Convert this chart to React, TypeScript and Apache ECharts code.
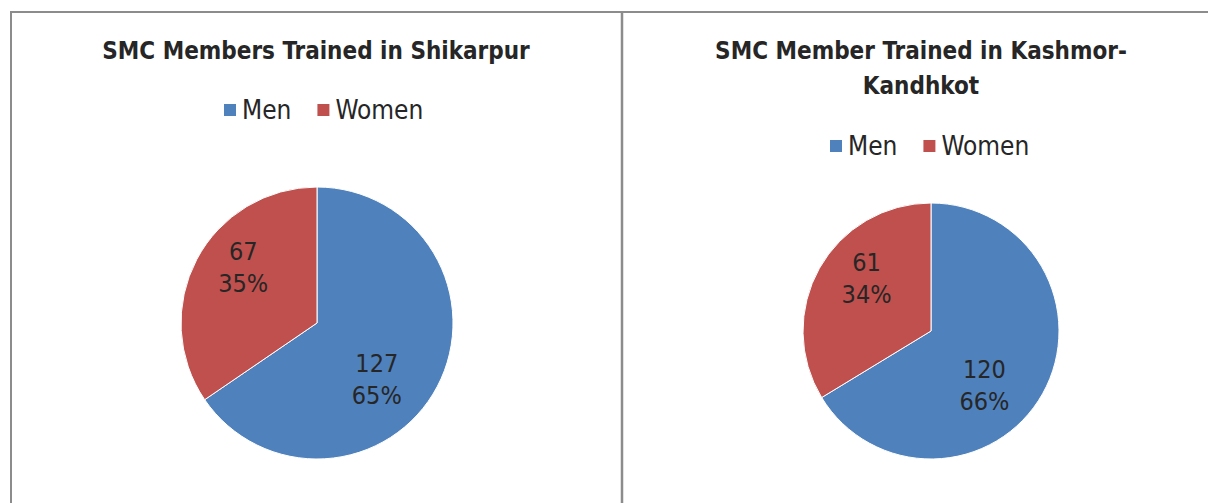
import React, { useEffect, useRef } from "react";
import * as echarts from "echarts";

const categories = ["Men", "Women"];
const shikarpurValues = [127, 67];
const kashmorValues = [120, 61];
const titleLeft = "SMC Members Trained in Shikarpur";
const titleRight = "SMC Member Trained in Kashmor-\nKandhkot";

const COLORS = ["#4F81BD", "#C0504D"];
const FONT = "'Liberation Sans Narrow', 'DejaVu Sans Condensed', Lato, sans-serif";

function pieSeries(values: number[], center: number[], radius: number, offsets: number[][]) {
  return {
    type: "pie",
    center,
    radius,
    startAngle: 90,
    clockwise: true,
    percentPrecision: 0,
    silent: true,
    labelLine: { show: false },
    itemStyle: { borderColor: "#ffffff", borderWidth: 1 },
    label: {
      show: true,
      position: "inside",
      formatter: "{c}\n{d}%",
      fontFamily: FONT,
      fontSize: 25,
      lineHeight: 32,
      color: "#262626",
    },
    data: categories.map((name, i) => ({
      name,
      value: values[i],
      itemStyle: { color: COLORS[i] },
      label: { offset: offsets[i] },
    })),
  };
}

export default function App() {
  const ref = useRef<HTMLDivElement>(null);
  useEffect(() => {
    if (!ref.current) return;
    const chart = echarts.init(ref.current, null, { renderer: "svg" });
    const legendBase = {
      data: categories,
      icon: "rect",
      itemWidth: 14,
      itemHeight: 14,
      itemGap: 24,
      selectedMode: false,
      textStyle: { fontFamily: FONT, fontSize: 26, color: "#262626", lineHeight: 26 },
    };
    const titleStyle = {
      fontFamily: FONT,
      fontSize: 24,
      fontWeight: "bold",
      color: "#262626",
      lineHeight: 35,
    };
    chart.setOption({
      animation: false,
      backgroundColor: "#ffffff",
      title: [
        { text: titleLeft, left: 316, top: 33, textAlign: "center", padding: 0, textStyle: titleStyle },
        { text: titleRight, left: 921, top: 33, textAlign: "center", padding: 0, textStyle: titleStyle },
      ],
      legend: [
        { ...legendBase, left: 222, top: 97, padding: 0 },
        { ...legendBase, left: 828, top: 133, padding: 0 },
      ],
      graphic: [
        { type: "line", shape: { x1: 10, y1: 12, x2: 1208, y2: 12 }, style: { stroke: "#8c8c8c", lineWidth: 2 } },
        { type: "line", shape: { x1: 11, y1: 11, x2: 11, y2: 503 }, style: { stroke: "#8c8c8c", lineWidth: 2 } },
        { type: "line", shape: { x1: 622, y1: 12, x2: 622, y2: 503 }, style: { stroke: "#8c8c8c", lineWidth: 2.5 } },
      ],
      series: [
        pieSeries(shikarpurValues, [317, 323], 136, [[-3, 23], [-11, -22]]),
        pieSeries(kashmorValues, [931, 331], 128, [[-5, 22], [-6, -20]]),
      ],
    });
    return () => chart.dispose();
  }, []);
  return (
    <div
      ref={ref}
      style={{ position: "absolute", left: 0, top: 0, width: 1208, height: 503 }}
    />
  );
}
